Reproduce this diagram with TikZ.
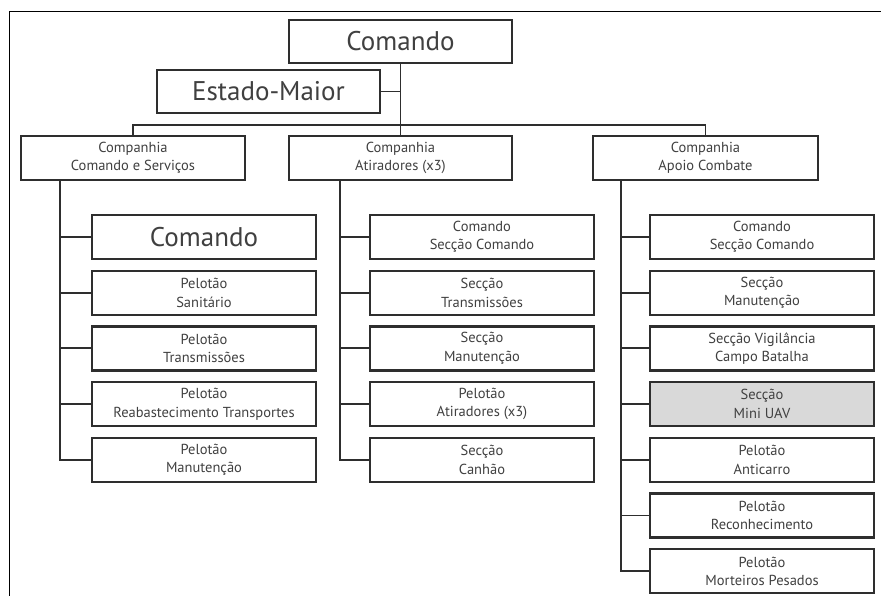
\documentclass[tikz,border=0pt]{standalone}
\usepackage{fontspec}
\setmainfont{PT Sans}
\definecolor{inkline}{HTML}{2E2E2E}
\definecolor{inktext}{HTML}{404040}
\definecolor{uavfill}{HTML}{D9D9D9}
\begin{document}
\begin{tikzpicture}[x=1pt,y=-1pt,
  unit/.style={draw=inkline, line width=2.3pt, fill=white, text=inktext,
    minimum width=224pt, minimum height=44pt, inner sep=0pt, align=center,
    font=\fontsize{14.5}{18.5}\selectfont},
  bigunit/.style={unit, font=\fontsize{27}{31}\selectfont},
  link/.style={draw=inkline, line width=1.9pt},
  frameline/.style={draw=black, line width=1.4pt}]
\useasboundingbox (0,0) rectangle (881,596);
% partial frame: top and left edges
\draw[frameline] (881,11.5) -- (9.5,11.5) -- (9.5,596);

% top level
\node[bigunit, minimum width=223pt, minimum height=43pt] (cmd) at (400.5,41.5) {Comando};
\node[bigunit, minimum width=223pt, minimum height=43pt] (em) at (268.5,91.5) {Estado-Maior};

% companies
\node[unit, minimum width=224pt] (csv) at (133,158) {Companhia\\Comando e Serviços};
\node[unit, minimum width=223pt] (atr) at (400.5,158) {Companhia\\Atiradores (x3)};
\node[unit, minimum width=225pt] (apc) at (705.5,158) {Companhia\\Apoio Combate};

% column 1
\node[bigunit] (c1a) at (204,237) {Comando};
\node[unit] (c1b) at (204,292.7) {Pelotão\\Sanitário};
\node[unit] (c1c) at (204,348.4) {Pelotão\\Transmissões};
\node[unit] (c1d) at (204,404.1) {Pelotão\\Reabastecimento Transportes};
\node[unit] (c1e) at (204,459.8) {Pelotão\\Manutenção};

% column 2
\node[unit] (c2a) at (482,237) {Comando\\Secção Comando};
\node[unit] (c2b) at (482,292.7) {Secção\\Transmissões};
\node[unit] (c2c) at (482,348.4) {Secção\\Manutenção};
\node[unit] (c2d) at (482,404.1) {Pelotão\\Atiradores (x3)};
\node[unit] (c2e) at (482,459.8) {Secção\\Canhão};

% column 3
\node[unit] (c3a) at (762,237) {Comando\\Secção Comando};
\node[unit] (c3b) at (762,292.7) {Secção\\Manutenção};
\node[unit] (c3c) at (762,348.4) {Secção Vigilância\\Campo Batalha};
\node[unit, fill=uavfill] (c3d) at (762,404.1) {Secção\\Mini UAV};
\node[unit] (c3e) at (762,459.8) {Pelotão\\Anticarro};
\node[unit] (c3f) at (762,515.5) {Pelotão\\Reconhecimento};
\node[unit] (c3g) at (762,571.2) {Pelotão\\Morteiros Pesados};

% command links
\coordinate (bus) at (0,125);
\draw[link] (cmd.south) -- (atr.north);
\draw[link] (em.east) -- (em.east -| cmd.south);
\draw[link] (csv.north) -- (csv.north |- bus) -- (apc.north |- bus) -- (apc.north);

% company trunks
\coordinate (t1) at (60,0);
\coordinate (t2) at (340,0);
\coordinate (t3) at (621,0);
\draw[link] (csv.south -| t1) -- (t1 |- c1e.west) -- (c1e.west);
\foreach \n in {c1a,c1b,c1c,c1d} \draw[link] (t1 |- \n.west) -- (\n.west);
\draw[link] (atr.south -| t2) -- (t2 |- c2e.west) -- (c2e.west);
\foreach \n in {c2a,c2b,c2c,c2d} \draw[link] (t2 |- \n.west) -- (\n.west);
\draw[link] (apc.south -| t3) -- (t3 |- c3g.west) -- (c3g.west);
\foreach \n in {c3a,c3b,c3c,c3d,c3e,c3f} \draw[link] (t3 |- \n.west) -- (\n.west);
\end{tikzpicture}
\end{document}
